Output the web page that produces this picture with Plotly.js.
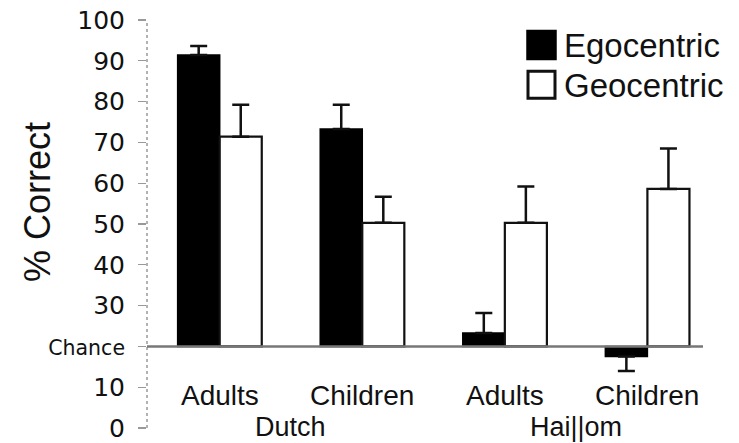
<!DOCTYPE html>
<html>
<head>
<meta charset="utf-8">
<script src="https://cdn.plot.ly/plotly-3.0.1.min.js"></script>
<style>html,body{margin:0;padding:0;background:#fff;}#chart{width:739px;height:443px;}</style>
</head>
<body>
<div id="chart"></div>
<script>
// ---- data ----
const groups = ["Dutch", "Hai||om"];
const categories = ["Adults", "Children", "Adults", "Children"];
const seriesNames = ["Egocentric", "Geocentric"];
const egoValues = [91.4, 73.3, 23.3, 17.5];
const egoErrUp = [2.2, 5.9, 4.9, 0];
const egoErrDown = [0, 0, 0, 3.5];
const geoValues = [71.4, 50.3, 50.3, 58.6];
const geoErrUp = [7.8, 6.4, 8.9, 9.9];
const geoErrDown = [0, 0, 0, 0];
const chance = 20;
const yTickVals = [0, 10, 20, 30, 40, 50, 60, 70, 80, 90, 100];
const yTickText = ["0", "10", "Chance", "30", "40", "50", "60", "70", "80", "90", "100"];

// ---- geometry helpers (pixel -> paper) ----
const W = 739, H = 443;
const M = {l: 147, r: 36, t: 19.5, b: 14.5};
const pw = W - M.l - M.r, ph = H - M.t - M.b;
const px = x => (x - M.l) / pw;
const py = y => (H - M.b - y) / ph;

const xIdx = categories.map((_, i) => i);
const ARIAL = "Liberation Sans, Arial, Helvetica, sans-serif";

const ego = {
  type: "bar", name: seriesNames[0], x: xIdx,
  y: egoValues.map(v => v - chance), base: chance,
  customdata: egoValues,
  marker: {color: "#000", line: {color: "#000", width: 1.5}},
  error_y: {type: "data", symmetric: false, array: egoErrUp, arrayminus: egoErrDown,
            color: "#111", thickness: 2.5, width: 8.5},
  showlegend: false, hoverinfo: "skip"
};
const geo = {
  type: "bar", name: seriesNames[1], x: xIdx,
  y: geoValues.map(v => v - chance), base: chance,
  customdata: geoValues,
  marker: {color: "#fff", line: {color: "#111", width: 2.2}},
  error_y: {type: "data", symmetric: false, array: geoErrUp, arrayminus: geoErrDown,
            color: "#111", thickness: 2.5, width: 8.5},
  showlegend: false, hoverinfo: "skip"
};

const annotations = [];
categories.forEach((c, i) => annotations.push({
  x: i, y: py(396), xref: "x", yref: "paper", text: c, showarrow: false,
  xanchor: "center", yanchor: "middle", font: {family: ARIAL, size: 28, color: "#111"}
}));
groups.forEach((g, gi) => annotations.push({
  x: gi * 2 + 0.5, y: py(427), xref: "x", yref: "paper", text: g, showarrow: false,
  xanchor: "center", yanchor: "middle", font: {family: ARIAL, size: 27, color: "#111"}
}));
// y-axis title
annotations.push({
  x: px(37), y: py(202), xref: "paper", yref: "paper", text: "% Correct", textangle: -90,
  showarrow: false, xanchor: "center", yanchor: "middle",
  font: {family: ARIAL, size: 36, color: "#111"}
});
// legend texts
seriesNames.forEach((s, i) => annotations.push({
  x: px(562), y: py(45 + i * 40), xref: "paper", yref: "paper", text: s, showarrow: false,
  xanchor: "left", yanchor: "middle", font: {family: ARIAL, size: 33, color: "#111"}
}));

const shapes = [
  // dotted y axis
  {type: "line", xref: "paper", yref: "y", x0: 0, x1: 0, y0: 0, y1: 100,
   line: {color: "#999", width: 1.5, dash: "dot"}, layer: "below"},
  // chance line
  {type: "line", xref: "paper", yref: "y", x0: 0, x1: 1, y0: chance, y1: chance,
   line: {color: "#777", width: 2.5}, layer: "above"},
  // legend swatches
  {type: "rect", xref: "paper", yref: "paper", x0: px(527), x1: px(556), y0: py(30), y1: py(59),
   fillcolor: "#000", line: {color: "#000", width: 1.5}},
  {type: "rect", xref: "paper", yref: "paper", x0: px(528), x1: px(555), y0: py(71), y1: py(98),
   fillcolor: "#fff", line: {color: "#111", width: 3}}
];

const layout = {
  width: W, height: H,
  margin: M,
  paper_bgcolor: "#fff", plot_bgcolor: "rgba(0,0,0,0)",
  barmode: "group", bargap: 0.41, bargroupgap: 0,
  showlegend: false,
  xaxis: {range: [-0.51, 3.39], showgrid: false, zeroline: false, showline: false,
          showticklabels: false, ticks: "", fixedrange: true},
  yaxis: {range: [0, 100], tickvals: yTickVals,
          ticktext: yTickText.map(t => t === "Chance" ? '<span style="font-size:20.5px">' + t + '</span>' : t),
          ticks: "outside", ticklen: 8, tickwidth: 1.2, tickcolor: "#999",
          ticklabelstandoff: 8, ticklabeloverflow: "allow",
          showgrid: false, zeroline: false, showline: false,
          tickfont: {family: "DejaVu Sans, Verdana, sans-serif", size: 25, color: "#111"}},
  annotations: annotations,
  shapes: shapes
};

Plotly.newPlot("chart", [ego, geo], layout, {displayModeBar: false, staticPlot: true});
</script>
</body>
</html>
